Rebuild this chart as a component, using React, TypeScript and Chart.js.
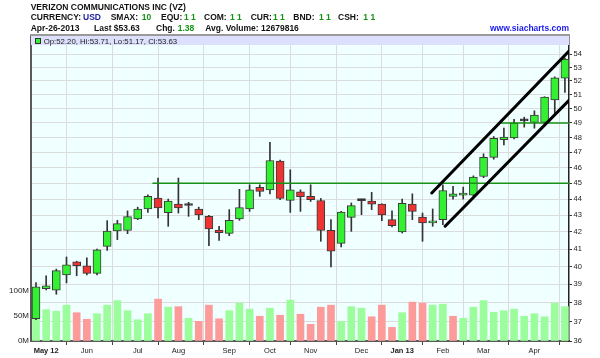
import React, { useEffect, useRef } from 'react';
import { Chart, registerables } from 'chart.js';

Chart.register(...registerables);

// Weekly OHLC, week of Apr-23-2012 .. week of Apr-22-2013
const opens = [37.15, 38.76, 38.68, 39.53, 40.26, 40.04, 39.61, 41.15, 42.06, 42.1, 42.78, 43.39, 44.06, 43.16, 43.69, 43.6, 43.39, 42.94, 42.12, 41.92, 42.78, 43.39, 44.73, 44.58, 46.43, 43.91, 44.46, 44.17, 43.91, 42.1, 41.33, 42.88, 43.9, 43.88, 43.69, 42.74, 42.0, 43.69, 42.9, 42.54, 42.74, 44.17, 44.25, 44.25, 45.43, 46.67, 47.85, 47.97, 49.15, 49.03, 49.03, 50.62, 52.2];
const highs = [39.1, 39.48, 39.85, 40.54, 40.3, 40.49, 41.0, 42.68, 42.7, 43.27, 43.5, 44.27, 45.33, 44.0, 45.33, 43.8, 43.5, 43.0, 42.34, 43.35, 44.61, 44.9, 44.9, 47.67, 46.5, 45.86, 44.58, 44.9, 44.04, 42.74, 43.25, 43.76, 43.95, 44.42, 43.7, 43.27, 44.0, 44.33, 43.14, 43.39, 44.9, 44.8, 44.75, 45.47, 46.91, 48.07, 48.64, 49.25, 49.4, 49.85, 50.85, 52.3, 53.71];
const lows = [37.1, 38.7, 38.46, 39.08, 39.48, 39.53, 39.53, 40.92, 41.55, 41.9, 42.74, 43.18, 42.84, 42.34, 43.14, 42.94, 42.74, 41.19, 41.5, 41.78, 42.7, 43.24, 44.17, 44.33, 43.96, 43.18, 43.24, 43.85, 41.45, 39.98, 41.12, 42.04, 43.04, 43.35, 42.68, 42.3, 41.94, 42.74, 41.45, 42.34, 42.44, 44.0, 44.0, 44.2, 45.35, 46.55, 47.51, 47.9, 48.71, 48.64, 48.98, 49.6, 51.17];
const closes = [38.86, 38.92, 39.77, 40.09, 40.04, 39.61, 40.96, 42.06, 42.5, 42.92, 43.39, 44.17, 43.45, 43.88, 43.45, 43.62, 43.02, 42.18, 41.96, 42.7, 43.48, 44.58, 44.48, 46.47, 44.04, 44.58, 44.15, 43.96, 42.1, 40.87, 43.2, 43.59, 43.92, 43.69, 43.02, 42.38, 43.73, 43.24, 42.54, 42.64, 44.54, 44.33, 44.38, 45.39, 46.67, 47.94, 48.03, 48.99, 49.2, 49.55, 50.82, 52.22, 53.63];
// weekly volume, millions
const volumes = [57, 62, 59, 71, 56, 43, 54, 71, 80, 60, 42, 54, 83, 67, 68, 45, 39, 71, 44, 60, 75, 63, 49, 65, 51, 81, 53, 33, 67, 71, 39, 68, 65, 48, 71, 27, 56, 77, 75, 71, 73, 49, 45, 67, 80, 57, 60, 63, 49, 54, 48, 75, 68];

const monthTickIdx = [1, 5, 10, 14, 19, 23, 27, 32, 36, 40, 44, 49];
const monthLabels = ['May 12', 'Jun', 'Jul', 'Aug', 'Sep', 'Oct', 'Nov', 'Dec', 'Jan 13', 'Feb', 'Mar', 'Apr'];
const boldLabels = ['May 12', 'Jan 13'];
const priceTicks = [36, 37, 38, 39, 40, 41, 42, 43, 44, 45, 46, 47, 48, 49, 50, 51, 52, 53, 54];
const volumeTicks = [0, 50, 100];

const support45 = [[11.5, 45], [52.4, 45]];
const support49 = [[45.6, 49], [52.4, 49]];
const channelUpper = [[38.91, 44.38], [52.4, 54.24]];
const channelLower = [[40.22, 42.34], [52.4, 50.59]];

const FONT = '"Liberation Sans", Arial, sans-serif';

export default function App() {
  const ref = useRef<HTMLCanvasElement>(null);

  useEffect(() => {
    const canvas = ref.current;
    if (!canvas) return;
    const idx = closes.map((_, i) => i);
    const bodyColors = idx.map((i) =>
      Math.abs(closes[i] - opens[i]) < 0.06 ? '#111111' : closes[i] > opens[i] ? '#33f033' : '#ee3333'
    );
    const volColors = idx.map((i) => (i === 0 || closes[i] >= closes[i - 1] ? '#9bfd9b' : '#fd9b9b'));
    const last = closes.length - 1;

    const chrome = {
      id: 'chrome',
      beforeDraw(chart: any) {
        const { ctx, chartArea: a } = chart;
        ctx.save();
        ctx.fillStyle = '#ffffff';
        ctx.fillRect(0, 0, chart.width, chart.height);
        ctx.fillStyle = '#f0ffff';
        ctx.fillRect(a.left, a.top, a.right - a.left, a.bottom - a.top);
        ctx.restore();
      },
      beforeDatasetsDraw(chart: any) {
        const { ctx, chartArea: a } = chart;
        ctx.save();
        ctx.fillStyle = '#dde0fc';
        ctx.fillRect(a.left, a.top, a.right - a.left, 10);
        ctx.strokeStyle = '#9a9a9a';
        ctx.lineWidth = 2;
        ctx.beginPath();
        ctx.moveTo(a.left - 1, a.top);
        ctx.lineTo(a.right + 1, a.top);
        ctx.stroke();
        // legend
        ctx.fillStyle = '#33f033';
        ctx.fillRect(a.left + 4.5, a.top + 3.5, 5, 5);
        ctx.strokeStyle = '#333';
        ctx.lineWidth = 1;
        ctx.strokeRect(a.left + 4.5, a.top + 3.5, 5, 5);
        ctx.fillStyle = '#222';
        ctx.font = `7.8px ${FONT}`;
        ctx.textBaseline = 'alphabetic';
        ctx.fillText(
          `Op:${opens[last].toFixed(2)}, Hi:${highs[last].toFixed(2)}, Lo:${lows[last].toFixed(2)}, Cl:${closes[last].toFixed(2)}`,
          a.left + 12.7,
          a.top + 9
        );
        ctx.restore();
      },
      afterDraw(chart: any) {
        const { ctx } = chart;
        ctx.save();
        ctx.textBaseline = 'alphabetic';
        const t = (s: string, x: number, y: number, c: string) => {
          ctx.font = `bold 8.5px ${FONT}`;
          ctx.fillStyle = c;
          ctx.fillText(s, x, y);
        };
        const K = '#111111', G = '#139313', B = '#22229c';
        t('VERIZON COMMUNICATIONS INC (VZ)', 30.7, 9.5, K);
        t('CURRENCY:', 30.7, 19.5, K);
        t('USD', 83, 19.5, B);
        t('SMAX:', 110.7, 19.5, K);
        t('10', 141.7, 19.5, G);
        t('EQU:', 161, 19.5, K);
        t('1 1', 184, 19.5, G);
        t('COM:', 204, 19.5, K);
        t('1 1', 230, 19.5, G);
        t('CUR:', 250.7, 19.5, K);
        t('1 1', 273, 19.5, G);
        t('BND:', 293.3, 19.5, K);
        t('1 1', 319, 19.5, G);
        t('CSH:', 338, 19.5, K);
        t('1 1', 363.3, 19.5, G);
        t('Apr-26-2013', 30.7, 30.5, K);
        t(`Last $${closes[last].toFixed(2)}`, 94, 30.5, K);
        t('Chg.', 156, 30.5, K);
        t('1.38', 177.7, 30.5, G);
        t('Avg. Volume: 12679816', 205.3, 30.5, K);
        ctx.textAlign = 'right';
        t('www.siacharts.com', 569, 30.5, '#1a1aee');
        ctx.restore();
      },
    };

    const pts = (arr: number[][]) => arr.map(([x, y]) => ({ x, y }));
    const lineDs = (arr: number[][], color: string, width: number, order: number) => ({
      type: 'line',
      data: pts(arr),
      borderColor: color,
      borderWidth: width,
      pointRadius: 0,
      borderCapStyle: 'round',
      xAxisID: 'x',
      yAxisID: 'y',
      order,
    });

    const zeroPad = (s: any) => {
      s.paddingLeft = 0;
      s.paddingRight = 0;
      s.paddingTop = 0;
      s.paddingBottom = 0;
    };

    const chart = new Chart(canvas, {
      type: 'bar',
      data: {
        datasets: [
          lineDs(channelUpper, '#000000', 3, 0),
          lineDs(channelLower, '#000000', 3, 0),
          lineDs(support45, '#179217', 1.6, 1),
          lineDs(support49, '#179217', 1.6, 1),
          {
            type: 'bar',
            data: idx.map((i) => ({ x: i, y: [opens[i], closes[i]] })),
            backgroundColor: bodyColors,
            borderColor: '#3a3a3a',
            borderWidth: 1,
            borderSkipped: false,
            barThickness: 8,
            minBarLength: 2,
            grouped: false,
            xAxisID: 'x',
            yAxisID: 'y',
            order: 3,
          },
          {
            type: 'bar',
            data: idx.map((i) => ({ x: i, y: [lows[i], highs[i]] })),
            backgroundColor: '#333333',
            borderWidth: 0,
            barThickness: 1,
            grouped: false,
            xAxisID: 'x',
            yAxisID: 'y',
            order: 4,
          },
          {
            type: 'bar',
            data: idx.map((i) => ({ x: i, y: volumes[i] })),
            backgroundColor: volColors,
            borderWidth: 0,
            barThickness: 7,
            grouped: false,
            xAxisID: 'x',
            yAxisID: 'yv',
            order: 5,
          },
        ] as any,
      },
      options: {
        animation: false,
        responsive: false,
        devicePixelRatio: 1,
        events: [],
        layout: { padding: { top: 35, left: 0, right: 0, bottom: 0 } },
        plugins: { legend: { display: false }, tooltip: { enabled: false } },
        scales: {
          x: {
            type: 'linear',
            min: -0.49,
            max: 52.4,
            offset: false,
            afterBuildTicks: (s: any) => {
              s.ticks = monthTickIdx.map((v) => ({ value: v }));
            },
            afterFit: (s: any) => {
              s.height = 17;
              zeroPad(s);
            },
            grid: { color: '#dcdcdc', lineWidth: 1, tickLength: 4, tickColor: '#444' },
            border: { color: '#5a5a5a', width: 2 },
            ticks: {
              autoSkip: false,
              maxRotation: 0,
              padding: 1,
              color: '#222',
              callback: (v: any) => {
                const k = monthTickIdx.indexOf(Number(v));
                return k >= 0 ? monthLabels[k] : '';
              },
              font: (c: any) => {
                const k = c.tick ? monthTickIdx.indexOf(c.tick.value) : -1;
                const bold = k >= 0 && boldLabels.includes(monthLabels[k]);
                return { family: FONT, size: 7.5, weight: bold ? 'bold' : 'normal' };
              },
            },
          },
          y: {
            type: 'logarithmic',
            position: 'right',
            min: 36,
            max: 55.49,
            afterBuildTicks: (s: any) => {
              s.ticks = priceTicks.map((v) => ({ value: v }));
            },
            afterFit: (s: any) => {
              s.width = 31;
              zeroPad(s);
            },
            grid: { color: '#dcdcdc', lineWidth: 1, tickLength: 3, tickColor: '#333' },
            border: { color: '#222', width: 1.5 },
            ticks: {
              autoSkip: false,
              padding: 1.5,
              color: '#222',
              font: { family: FONT, size: 7.5 },
              callback: (v: any) => String(v),
            },
          },
          yv: {
            type: 'linear',
            position: 'left',
            min: 0,
            max: 606,
            afterBuildTicks: (s: any) => {
              s.ticks = volumeTicks.map((v) => ({ value: v }));
            },
            afterFit: (s: any) => {
              s.width = 31;
              zeroPad(s);
            },
            grid: { drawOnChartArea: false, drawTicks: false },
            border: { color: '#5a5a5a', width: 2 },
            ticks: {
              autoSkip: false,
              padding: 2,
              color: '#222',
              font: { family: FONT, size: 8 },
              callback: (v: any) => `${v}M`,
            },
          },
        },
      } as any,
      plugins: [chrome],
    });

    return () => chart.destroy();
  }, []);

  return (
    <div style={{ position: 'absolute', left: 0, top: 0, width: 600, height: 358, background: '#fff' }}>
      <canvas ref={ref} width={600} height={358} style={{ display: 'block', width: 600, height: 358 }} />
    </div>
  );
}
